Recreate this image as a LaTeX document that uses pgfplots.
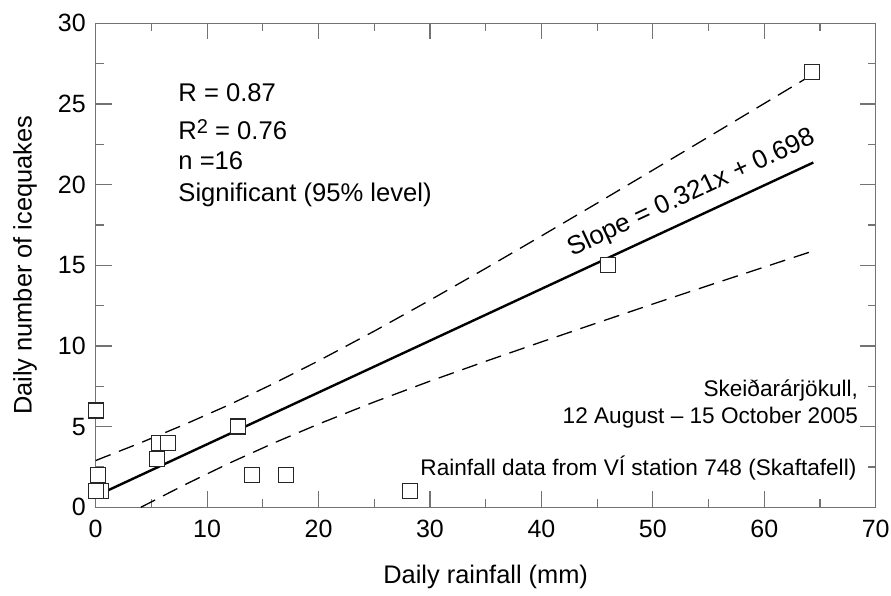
\documentclass[border=0pt]{standalone}
\usepackage{pgfplots}
\pgfplotsset{compat=1.18}
\usepackage{fontspec}
\setmainfont{Liberation Sans}
\begin{document}
\begin{tikzpicture}
\begin{axis}[
  at={(0,0)}, anchor=south west,
  scale only axis, width=390bp, height=242bp,
  xmin=0, xmax=70, ymin=0, ymax=30,
  xtick={0,10,...,70}, minor xtick={5,15,...,65},
  ytick={0,5,...,30}, minor ytick={2.5,7.5,...,27.5},
  tick align=inside, major tick length=8bp, minor tick length=4bp,
  axis line style={draw=black!55, line width=0.6bp},
  every tick/.style={draw=black!55, line width=0.6bp},
  /pgf/number format/assume math mode=true,
  tick label style={font=\fontsize{12.5bp}{14bp}\selectfont, text=black},
  yticklabel style={xshift=-1.5bp},
  xticklabel style={yshift=-3bp},
  xlabel={Daily rainfall (mm)}, ylabel={Daily number of icequakes},
  label style={font=\fontsize{12.7bp}{15bp}\selectfont},
  xlabel style={at={(axis description cs:0.5,-0.144)}, anchor=center},
  ylabel style={at={(axis description cs:-0.0906,0.5)}, anchor=center, rotate=0},
  clip=false,
]
% upper confidence band
\addplot[black, line width=0.65bp, dash pattern=on 8bp off 4.5bp] coordinates {
 (0,2.90) (4,3.99) (8,5.14) (12,6.36) (16,7.68) (20,9.08) (25,10.92) (30,12.84)
 (35,14.81) (40,16.82) (45,18.85) (50,20.90) (55,22.96) (60,25.03) (64.4,26.85)};
% lower confidence band
\addplot[black, line width=0.65bp, dash pattern=on 8bp off 4.5bp] coordinates {
 (4.05,0) (8,1.40) (12,2.74) (16,3.99) (20,5.16) (25,6.53) (30,7.82)
 (35,9.05) (40,10.25) (45,11.43) (50,12.60) (55,13.75) (60,14.89) (64.4,15.89)};
% regression line
\addplot[black, line width=1.2bp] coordinates {(0,0.698) (64.4,21.37)};
% observations
\addplot[only marks, mark=square*, mark size=3.75bp,
  mark options={fill=white, draw=black!85, line width=0.65bp}] coordinates {
 (0,6) (0.2,2) (0,1) (0,1) (0,1) (0.5,1) (5.5,3) (5.7,4) (6.5,4) (12.8,5)
 (14,2) (17.1,2) (28.2,1) (46,15) (64.3,27) (0,1)};
\node[anchor=base west, font=\fontsize{12.8bp}{15bp}\selectfont, inner sep=0pt] at (axis cs:7.39,25.15) {R = 0.87};
\node[anchor=base west, font=\fontsize{12.8bp}{15bp}\selectfont, inner sep=0pt] at (axis cs:7.39,22.77) {R\raisebox{0.5ex}{\fontsize{10bp}{11bp}\selectfont 2} = 0.76};
\node[anchor=base west, font=\fontsize{12.8bp}{15bp}\selectfont, inner sep=0pt] at (axis cs:7.39,20.91) {n =16};
\node[anchor=base west, font=\fontsize{12.8bp}{15bp}\selectfont, inner sep=0pt] at (axis cs:7.39,18.95) {Significant (95\% level)};
\node[rotate=25, font=\fontsize{13bp}{15bp}\selectfont, inner sep=0pt] at (axis cs:53.5,19.45) {Slope = 0.321x + 0.698};
\node[anchor=base east, font=\fontsize{11.3bp}{13bp}\selectfont, inner sep=0pt] at (axis cs:68.45,6.86) {Skeiðarárjökull,};
\node[anchor=base east, font=\fontsize{11.3bp}{13bp}\selectfont, inner sep=0pt] at (axis cs:68.45,5.21) {12 August – 15 October 2005};
\node[anchor=base east, font=\fontsize{11.3bp}{13bp}\selectfont, inner sep=0pt] at (axis cs:68.3,2.0) {Rainfall data from VÍ station 748 (Skaftafell)};
\end{axis}
\pgfresetboundingbox
\path[use as bounding box] (-47.85bp,-44.35bp) rectangle (397.65bp,253.65bp);
\end{tikzpicture}
\end{document}
